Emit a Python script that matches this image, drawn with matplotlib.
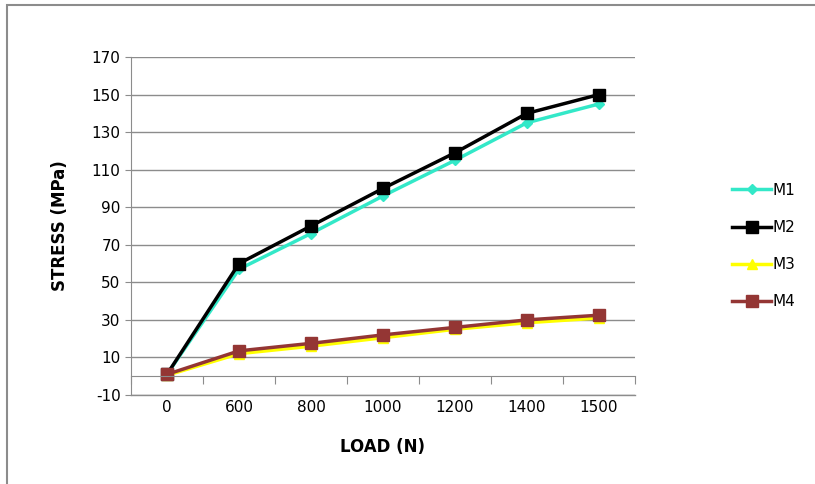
import matplotlib.pyplot as plt
from matplotlib.patches import Rectangle

plt.rcParams["axes.unicode_minus"] = False

loads = ["0", "600", "800", "1000", "1200", "1400", "1500"]
m1 = [1, 57, 76, 96, 115, 135, 145]
m2 = [1, 60, 80, 100, 119, 140, 150]
m3 = [0.5, 12, 16, 20.5, 25, 28.5, 31]
m4 = [1, 13.5, 17.5, 22, 26, 30, 32.5]
y_ticks = list(range(-10, 171, 20))

W, H = 815, 484
fig = plt.figure(figsize=(W / 100, H / 100), dpi=100)
fig.patches.append(Rectangle((7 / W, -0.1), 1.2, 1.1 - 5 / H, transform=fig.transFigure,
                             fill=False, edgecolor="#8c8c8c", linewidth=1.5))

ax = fig.add_axes([131 / W, 1 - 395 / H, (635 - 131) / W, (395 - 57) / H])
x = range(len(loads))

ax.plot(x, m1, color="#33E8C8", marker="D", markersize=5, linewidth=2.5, label="M1")
ax.plot(x, m2, color="black", marker="s", markersize=8, linewidth=2.5, label="M2")
ax.plot(x, m3, color="#FFFF00", marker="^", markersize=7, linewidth=2.5, label="M3")
ax.plot(x, m4, color="#943634", marker="s", markersize=8, linewidth=2.5, label="M4")

ax.set_xlim(-0.5, len(loads) - 0.5)
ax.set_ylim(-10, 170)
ax.set_yticks(y_ticks)
ax.yaxis.grid(True, color="#8c8c8c", linewidth=1)
ax.axhline(-10, color="#8c8c8c", linewidth=1, clip_on=False, zorder=0)
ax.set_axisbelow(True)

# category axis crosses at zero, tick labels sit below the plot
ax.set_xticks([i - 0.5 for i in range(len(loads) + 1)], minor=False)
ax.set_xticklabels([])
ax.set_xticks(list(x), minor=True)
ax.set_xticklabels(loads, minor=True)
ax.spines["bottom"].set_position(("data", 0))
ax.tick_params(axis="x", which="major", direction="out", length=6, color="#8c8c8c")
ax.tick_params(axis="x", which="minor", length=0, pad=17, labelsize=11)
ax.tick_params(axis="y", direction="out", length=4, color="#8c8c8c", labelsize=11)

for s in ["top", "right"]:
    ax.spines[s].set_visible(False)
for s in ["left", "bottom"]:
    ax.spines[s].set_color("#8c8c8c")

ax.set_ylabel("STRESS (MPa)", fontsize=12, fontweight="bold", labelpad=16)
fig.text(383 / W, 1 - 447 / H, "LOAD (N)", fontsize=12, fontweight="bold",
         ha="center", va="center")

fig.legend(loc="center left", bbox_to_anchor=(718 / W, 1 - 246 / H), frameon=False,
           fontsize=11, handlelength=2.6, handletextpad=0.1, labelspacing=1.45)

fig.savefig("out.png", dpi=100)
